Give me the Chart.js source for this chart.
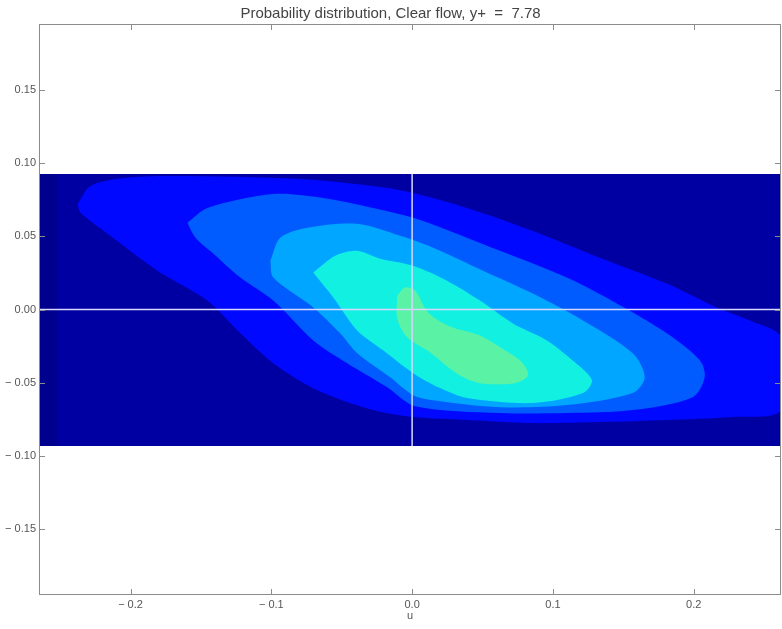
<!DOCTYPE html>
<html>
<head>
<meta charset="utf-8">
<title>Probability distribution</title>
<script src="https://cdn.jsdelivr.net/npm/chart.js@4.4.1/dist/chart.umd.min.js"></script>
<style>
  html, body { margin: 0; padding: 0; background: #fff; }
</style>
</head>
<body>
<canvas id="pdf" width="782" height="629"></canvas>
<script>
// axis limits and ticks
const uRange = [-0.265, 0.262];
const vRange = [-0.195, 0.195];
const xTicks = [-0.2, -0.1, 0, 0.1, 0.2];
const xTickLabels = ['\u2212 0.2', '\u2212 0.1', '0.0', '0.1', '0.2'];
const yTicks = [-0.15, -0.10, -0.05, 0, 0.05, 0.10, 0.15];
const yTickLabels = ['\u2212 0.15', '\u2212 0.10', '\u2212 0.05', '0.00', '0.05', '0.10', '0.15'];

// sampled window (v extent of the data)
const windowV = [-0.0932, 0.0925];
const innerU = -0.252;

// contour bands, outer to inner (u = x, v = y)
const band1U = [-0.2376, -0.2284, -0.2050, -0.1695, -0.0794, -0.0227, 0.0007, 0.0390, 0.0858, 0.1333, 0.1809, 0.2163, 0.2397, 0.2620,
                0.2620, 0.2277, 0.1809, 0.1333, 0.0858, 0.0390, 0.0007, -0.0277, -0.0674, -0.0986, -0.1220, -0.1454, -0.1809, -0.2163, -0.2355];
const band1V = [0.0721, 0.0844, 0.0898, 0.0912, 0.0891, 0.0837, 0.0796, 0.0694, 0.0537, 0.0354, 0.0177, 0.0014, -0.0075, -0.0190,
                -0.0687, -0.0735, -0.0755, -0.0769, -0.0776, -0.0755, -0.0735, -0.0687, -0.0551, -0.0367, -0.0163, 0.0061, 0.0265, 0.0517, 0.0660];

const band2U = [-0.1596, -0.1454, -0.0986, -0.0631, -0.0277, 0.0057, 0.0624, 0.1099, 0.1454, 0.1809, 0.2043, 0.2078,
                0.1993, 0.1567, 0.1099, 0.0624, 0.0021, -0.0177, -0.0461, -0.0702, -0.0986, -0.1220, -0.1411, -0.1539];
const band2V = [0.0592, 0.0694, 0.0789, 0.0762, 0.0694, 0.0612, 0.0401, 0.0218, 0.0041, -0.0163, -0.0347, -0.0463,
                -0.0599, -0.0687, -0.0707, -0.0707, -0.0660, -0.0531, -0.0367, -0.0211, 0.0061, 0.0218, 0.0381, 0.0490];

const band3U = [-0.1007, -0.0936, -0.0745, -0.0390, -0.0085, 0.0149, 0.0504, 0.0858, 0.1213, 0.1567, 0.1652,
                0.1567, 0.1099, 0.0624, 0.0149, 0.0007, -0.0156, -0.0390, -0.0511, -0.0702, -0.0986];
const band3V = [0.0333, 0.0490, 0.0558, 0.0585, 0.0503, 0.0422, 0.0265, 0.0109, -0.0075, -0.0299, -0.0463,
                -0.0571, -0.0653, -0.0667, -0.0619, -0.0585, -0.0463, -0.0299, -0.0163, 0.0014, 0.0218];

const band4U = [-0.0702, -0.0546, -0.0390, -0.0227, 0.0007, 0.0248, 0.0482, 0.0716, 0.0957, 0.1156, 0.1277,
                0.1213, 0.0858, 0.0390, 0.0199, 0.0007, -0.0206, -0.0390, -0.0560];
const band4V = [0.0252, 0.0367, 0.0401, 0.0347, 0.0299, 0.0197, 0.0061, -0.0095, -0.0211, -0.0361, -0.0483,
                -0.0571, -0.0639, -0.0605, -0.0537, -0.0435, -0.0279, -0.0143, 0.0082];

const band5U = [-0.0106, -0.0050, 0.0021, 0.0113, 0.0270, 0.0482, 0.0660, 0.0780, 0.0823,
                0.0730, 0.0482, 0.0326, 0.0128, -0.0035, -0.0106];
const band5V = [0.0095, 0.0150, 0.0129, -0.0020, -0.0116, -0.0177, -0.0279, -0.0361, -0.0449,
                -0.0503, -0.0503, -0.0442, -0.0293, -0.0190, -0.0061];

const bandColors = ['#00008e', '#0000a2', '#0008ff', '#005cff', '#00a6ff', '#12f0e2', '#5af2a4'];

function closed(us, vs) {
    const pts = us.map((u, i) => ({ x: u, y: vs[i] }));
    pts.push({ ...pts[0] });
    return pts;
}

function bandSet(points, color, order, tension) {
    return {
        type: 'line',
        data: points,
        backgroundColor: color,
        borderColor: color,
        borderWidth: 0,
        pointRadius: 0,
        fill: 'shape',
        tension: tension,
        order: order
    };
}

const boxPoints = closed([uRange[0], uRange[1], uRange[1], uRange[0]], [windowV[1], windowV[1], windowV[0], windowV[0]]);
const innerPoints = closed([innerU, uRange[1], uRange[1], innerU], [windowV[1], windowV[1], windowV[0], windowV[0]]);

// inward tick marks and the box round the axes
const frame = {
    id: 'frame',
    afterDraw(chart) {
        const { ctx, chartArea: a, scales: { x, y } } = chart;
        ctx.save();
        ctx.strokeStyle = '#8c8c8c';
        ctx.lineWidth = 1;
        ctx.strokeRect(a.left + 0.5, a.top + 0.5, a.right - a.left - 1, a.bottom - a.top - 1);
        ctx.beginPath();
        xTicks.forEach(v => {
            const px = Math.round(x.getPixelForValue(v)) + 0.5;
            ctx.moveTo(px, a.bottom); ctx.lineTo(px, a.bottom - 6);
            ctx.moveTo(px, a.top); ctx.lineTo(px, a.top + 6);
        });
        yTicks.forEach(v => {
            const py = Math.round(y.getPixelForValue(v)) + 0.5;
            ctx.moveTo(a.left, py); ctx.lineTo(a.left + 6, py);
            ctx.moveTo(a.right, py); ctx.lineTo(a.right - 6, py);
        });
        ctx.stroke();
        ctx.restore();
    }
};

const tickFont = { family: "'Liberation Sans', Arial, sans-serif", size: 11 };

new Chart(document.getElementById('pdf'), {
    type: 'scatter',
    data: {
        datasets: [
            // crosshair through the origin
            {
                type: 'line', data: [{ x: uRange[0], y: 0 }, { x: uRange[1], y: 0 }],
                borderColor: '#d6d8ff', borderWidth: 1.5, pointRadius: 0, fill: false, order: 0
            },
            {
                type: 'line', data: [{ x: 0, y: windowV[0] }, { x: 0, y: windowV[1] }],
                borderColor: '#d6d8ff', borderWidth: 1.5, pointRadius: 0, fill: false, order: 0
            },
            bandSet(closed(band5U, band5V), bandColors[6], 1, 0.3),
            bandSet(closed(band4U, band4V), bandColors[5], 2, 0.3),
            bandSet(closed(band3U, band3V), bandColors[4], 3, 0.3),
            bandSet(closed(band2U, band2V), bandColors[3], 4, 0.3),
            bandSet(closed(band1U, band1V), bandColors[2], 5, 0.3),
            bandSet(innerPoints, bandColors[1], 6, 0),
            bandSet(boxPoints, bandColors[0], 7, 0)
        ]
    },
    options: {
        responsive: false,
        animation: false,
        layout: { padding: { left: 0, right: 1, top: 0, bottom: 0 } },
        plugins: {
            legend: { display: false },
            tooltip: { enabled: false },
            title: {
                display: true,
                text: 'Probability distribution, Clear flow, y+  =  7.78',
                color: '#444',
                font: { family: "'Liberation Sans', Arial, sans-serif", size: 15, weight: 'normal', lineHeight: 1.2 },
                padding: { top: 5, bottom: 1 }
            }
        },
        scales: {
            x: {
                type: 'linear',
                min: uRange[0],
                max: uRange[1],
                afterBuildTicks: s => { s.ticks = xTicks.map(v => ({ value: v })); },
                afterFit: s => { s.height = 34; },
                grid: { display: false, drawTicks: false },
                border: { display: false },
                ticks: {
                    color: '#555',
                    font: tickFont,
                    padding: 3,
                    maxRotation: 0,
                    autoSkip: false,
                    callback: (v, i) => xTickLabels[i]
                },
                title: {
                    display: true,
                    text: 'u',
                    color: '#555',
                    font: tickFont,
                    padding: { top: 0, bottom: 6 }
                }
            },
            y: {
                type: 'linear',
                min: vRange[0],
                max: vRange[1],
                afterBuildTicks: s => { s.ticks = yTicks.map(v => ({ value: v })); },
                afterFit: s => { s.width = 39; },
                grid: { display: false, drawTicks: false },
                border: { display: false },
                ticks: {
                    color: '#555',
                    font: tickFont,
                    padding: 3,
                    autoSkip: false,
                    callback: (v, i) => yTickLabels[i]
                }
            }
        }
    },
    plugins: [frame]
});
</script>
</body>
</html>
